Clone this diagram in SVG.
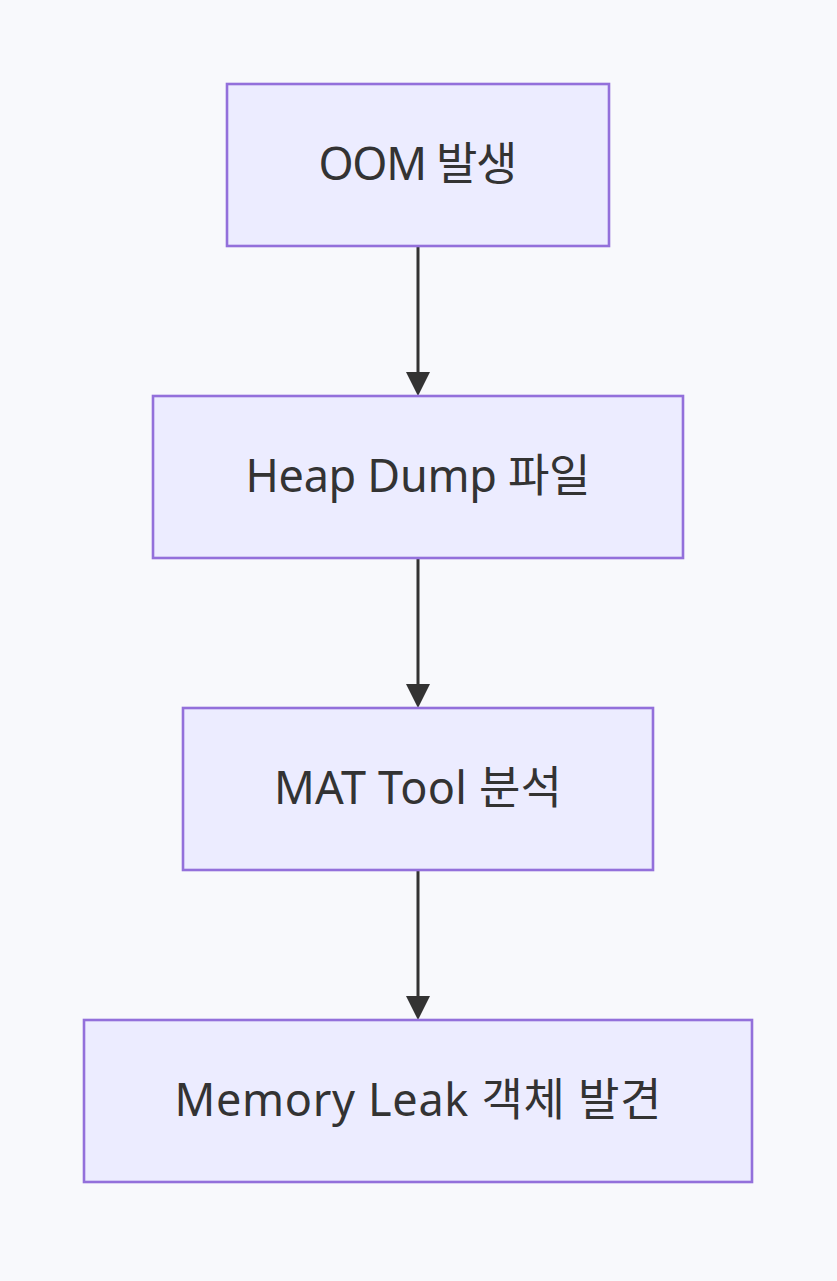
<svg xmlns="http://www.w3.org/2000/svg" width="837" height="1281" viewBox="0 0 837 1281">
<style>
.node rect{fill:#ECECFF;stroke:#9370DB;stroke-width:2.6}
.node text{font-family:"Noto Sans","Noto Sans CJK KR",sans-serif;font-size:45px;fill:#333;text-anchor:middle}
.edge{stroke:#333;stroke-width:3;fill:none}
</style>
<rect width="837" height="1281" fill="#F8F9FC"/>
<g id="connectors">
<path class="edge" d="M418,246 V372" />
<path d="M406,372 L430,372 L418,396 Z" fill="#333"/>
<path class="edge" d="M418,558 V684" />
<path d="M406,684 L430,684 L418,708 Z" fill="#333"/>
<path class="edge" d="M418,870 V996" />
<path d="M406,996 L430,996 L418,1020 Z" fill="#333"/>
</g>
<g id="node1" class="node"><rect x="227" y="84" width="382" height="162"/><text x="418" y="180" textLength="199">OOM 발생</text></g>
<g id="node2" class="node"><rect x="153" y="396" width="530" height="162"/><text x="418" y="492" textLength="345">Heap Dump 파일</text></g>
<g id="node3" class="node"><rect x="183" y="708" width="470" height="162"/><text x="418" y="804" textLength="288">MAT Tool 분석</text></g>
<g id="node4" class="node"><rect x="84" y="1020" width="668" height="162"/><text x="418" y="1116" textLength="487">Memory Leak 객체 발견</text></g>
</svg>
